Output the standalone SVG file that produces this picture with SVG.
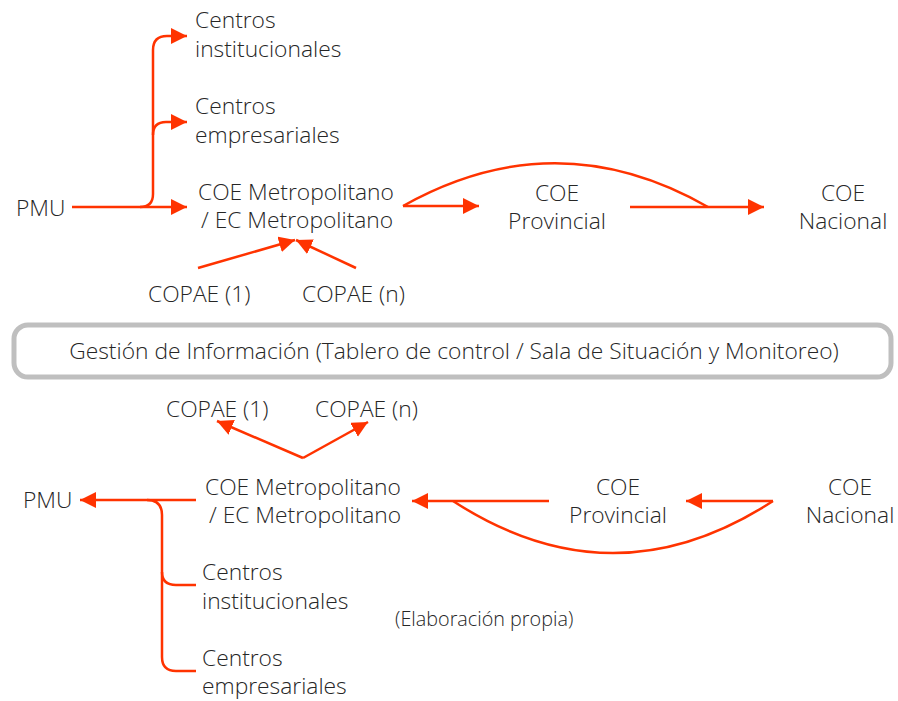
<svg xmlns="http://www.w3.org/2000/svg" width="898" height="701" viewBox="0 0 898 701">
<style>
text{font-family:"Open Sans","Noto Sans","Liberation Sans",sans-serif;font-weight:300;font-size:22.8px;fill:#262626}
.c{stroke:#FF3300;stroke-width:2.5;fill:none}
.m{text-anchor:middle}
.small{font-size:19.8px}
</style>
<defs>
<marker id="ah" markerUnits="userSpaceOnUse" markerWidth="18" markerHeight="18" refX="16" refY="8" orient="auto">
<path d="M0,0 L16,8 L0,16 z" fill="#FF3300"/>
</marker>
</defs>
<rect width="898" height="701" fill="#fff"/>
<g id="connectors">
<path class="c" d="M72,207 H140 Q153,207 153,194 V50 Q153,36 167,36 H187" marker-end="url(#ah)"/>
<path class="c" d="M153,135 Q153,122 166,122 H187" marker-end="url(#ah)"/>
<path class="c" d="M140,207 H187" marker-end="url(#ah)"/>
<path class="c" d="M403,206 H479" marker-end="url(#ah)"/>
<path class="c" d="M403,206 Q556,120 708,207"/>
<path class="c" d="M630,207 H764" marker-end="url(#ah)"/>
<path class="c" d="M198,268 L295,240" marker-end="url(#ah)"/>
<path class="c" d="M356,268 L296,240" marker-end="url(#ah)"/>
<path class="c" d="M303,458 L217,421" marker-end="url(#ah)"/>
<path class="c" d="M303,458 L368,422" marker-end="url(#ah)"/>
<path class="c" d="M196,500 H80" marker-end="url(#ah)"/>
<path class="c" d="M147,500 Q162,500 162,515 V657 Q162,671 176,671 H196"/>
<path class="c" d="M162,572 Q162,585 176,585 H196"/>
<path class="c" d="M549,501 H412" marker-end="url(#ah)"/>
<path class="c" d="M453,501 Q613,605 773,501"/>
<path class="c" d="M773,501 H686" marker-end="url(#ah)"/>
</g>
<g id="pmu-top"><text x="16" y="216">PMU</text></g>
<g id="centros-inst-top"><text x="195" y="28">Centros</text><text x="195" y="57">institucionales</text></g>
<g id="centros-emp-top"><text x="195" y="114">Centros</text><text x="195" y="143">empresariales</text></g>
<g id="coe-metro-top"><text x="198" y="200">COE Metropolitano</text><text x="201" y="228">/ EC Metropolitano</text></g>
<g id="coe-prov-top"><text class="m" x="557" y="201">COE</text><text class="m" x="557" y="229">Provincial</text></g>
<g id="coe-nac-top"><text class="m" x="843" y="201">COE</text><text class="m" x="843" y="229">Nacional</text></g>
<g id="copae1-top"><text x="148" y="302">COPAE (1)</text></g>
<g id="copaen-top"><text x="302" y="302">COPAE (n)</text></g>
<g id="gestion">
<rect x="14" y="325" width="877" height="52" rx="14" ry="14" fill="#fff" stroke="#BFBFBF" stroke-width="5"/>
<text class="m" x="454" y="359">Gestión de Información (Tablero de control / Sala de Situación y Monitoreo)</text>
</g>
<g id="copae1-bot"><text x="166" y="417">COPAE (1)</text></g>
<g id="copaen-bot"><text x="315" y="417">COPAE (n)</text></g>
<g id="pmu-bot"><text x="23" y="508">PMU</text></g>
<g id="coe-metro-bot"><text x="205" y="495">COE Metropolitano</text><text x="209" y="523">/ EC Metropolitano</text></g>
<g id="coe-prov-bot"><text class="m" x="618" y="495">COE</text><text class="m" x="618" y="523">Provincial</text></g>
<g id="coe-nac-bot"><text class="m" x="850" y="495">COE</text><text class="m" x="850" y="523">Nacional</text></g>
<g id="centros-inst-bot"><text x="202" y="580">Centros</text><text x="202" y="609">institucionales</text></g>
<g id="centros-emp-bot"><text x="202" y="666">Centros</text><text x="202" y="694">empresariales</text></g>
<g id="nota"><text class="small" x="395" y="626">(Elaboración propia)</text></g>
</svg>
